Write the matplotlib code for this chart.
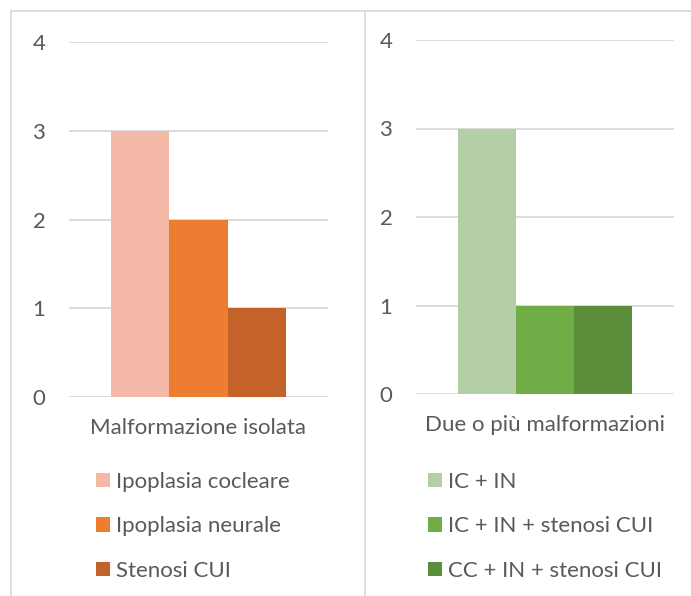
import matplotlib
matplotlib.use("Agg")
import matplotlib.pyplot as plt
from matplotlib.lines import Line2D
from matplotlib.patches import Patch

plt.rcParams['font.family'] = ['Lato', 'DejaVu Sans']

#data
groups = ["Malformazione isolata", "Due o più malformazioni"]
labels_left = ["Ipoplasia cocleare", "Ipoplasia neurale", "Stenosi CUI"]
values_left = [3, 2, 1]
labels_right = ["IC + IN", "IC + IN + stenosi CUI", "CC + IN + stenosi CUI"]
values_right = [3, 1, 1]
colors_left = ["#F4B9A6", "#ED7D31", "#C5622A"]
colors_right = ["#B4CEA8", "#70AD47", "#5A8E3A"]
yticks = [0, 1, 2, 3, 4]

W, H = 691, 596
text_col = "#595959"
grid_col = "#D9D9D9"
fs = 16

fig = plt.figure(figsize=(W/100, H/100), dpi=100)

#panel borders (pixel coords from top-left)
def hline(x0, x1, y):
    fig.add_artist(Line2D([x0/W, x1/W], [1-y/H, 1-y/H], color=grid_col, lw=1.3))
def vline(x, y0, y1):
    fig.add_artist(Line2D([x/W, x/W], [1-y0/H, 1-y1/H], color=grid_col, lw=1.3))

hline(11, 365, 10.5)
vline(11, 10.5, H)
hline(365, W, 11)
vline(365, 11, H)

def panel(rect, values, colors, labels, group, leg_xy):
    ax = fig.add_axes(rect)
    w = 0.224
    n = len(values)
    for i in range(n):
        ax.bar((i-(n-1)/2)*w, values[i], width=w, color=colors[i], zorder=3)
    ax.set_xlim(-0.5, 0.5)
    ax.set_ylim(0, 4)
    ax.set_yticks(yticks)
    ax.set_xticks([0])
    ax.set_xticklabels([group])
    ax.grid(axis="y", color=grid_col, lw=1.3, zorder=0)
    ax.set_axisbelow(True)
    for s in ax.spines.values():
        s.set_visible(False)
    ax.tick_params(axis="y", length=0, pad=17, labelsize=fs, labelcolor=text_col)
    ax.tick_params(axis="x", length=0, pad=15, labelsize=fs, labelcolor=text_col)
    handles = [Patch(facecolor=c, edgecolor="none") for c in colors]
    leg = ax.legend(handles, labels, loc="upper left",
                    bbox_to_anchor=(leg_xy[0]/W, 1-leg_xy[1]/H),
                    bbox_transform=fig.transFigure, frameon=False,
                    fontsize=fs, handlelength=0.63, handleheight=0.63,
                    handletextpad=0.27, labelspacing=1.1, borderpad=0,
                    borderaxespad=0)
    for t in leg.get_texts():
        t.set_color(text_col)
    return ax

panel([69/W, (H-397)/H, 259/W, 355/H], values_left, colors_left,
      labels_left, groups[0], (96, 472))
panel([416/W, (H-394)/H, 258/W, 354/H], values_right, colors_right,
      labels_right, groups[1], (428, 472))

fig.savefig("out.png", dpi=100, facecolor="white")
